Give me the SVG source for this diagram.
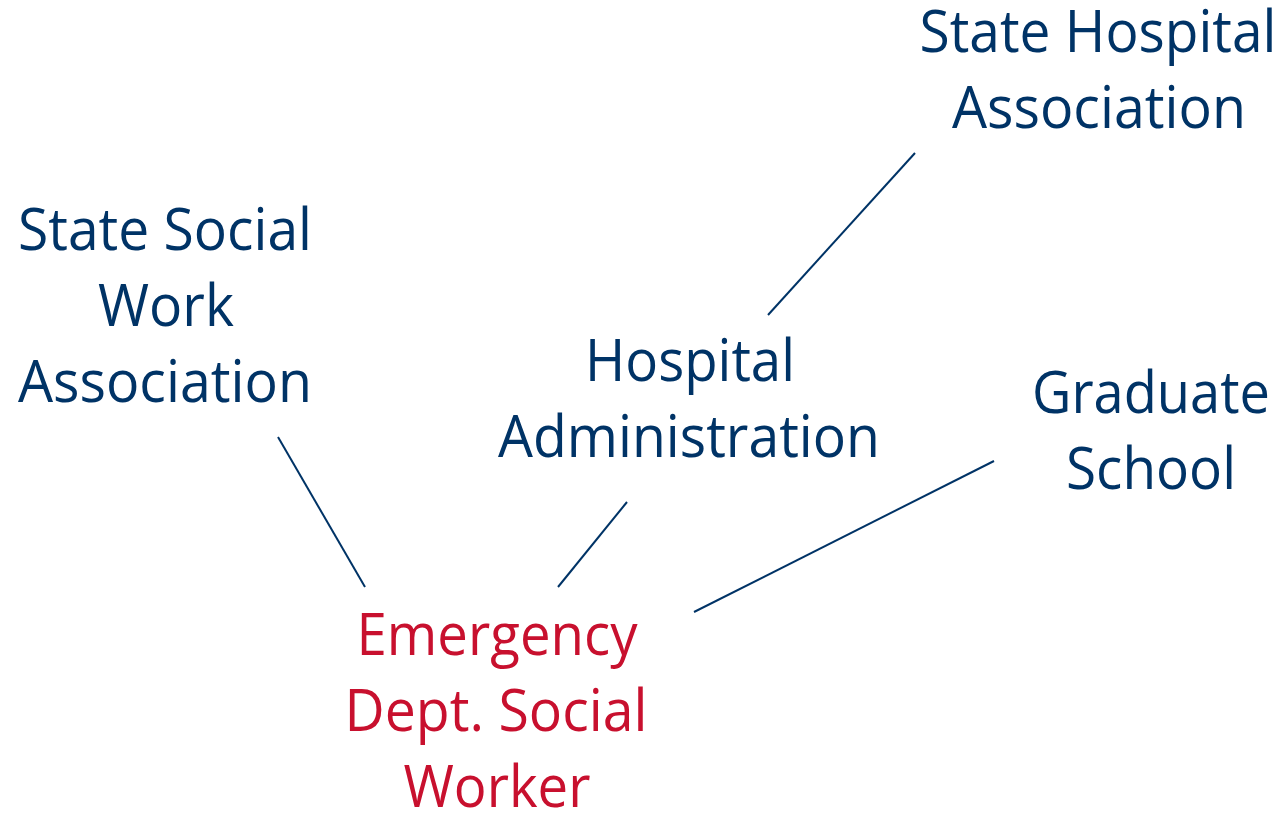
<svg xmlns="http://www.w3.org/2000/svg" width="1284" height="814" viewBox="0 0 1284 814">
<style>
text{font-family:"Open Sans","Noto Sans","Liberation Sans",sans-serif;font-size:58px;text-anchor:middle}
.n{fill:#003366}
.r{fill:#c8102e}
.c line{stroke:#003366;stroke-width:2}
</style>
<rect width="1284" height="814" fill="#ffffff"/>
<g class="c" id="connectors">
<line x1="278" y1="437" x2="365" y2="587"/>
<line x1="627" y1="502" x2="558" y2="587"/>
<line x1="994" y1="461" x2="694" y2="612"/>
<line x1="915" y1="153" x2="768" y2="315"/>
</g>
<g id="ssw">
<text class="n" x="165" y="250" textLength="294" lengthAdjust="spacingAndGlyphs">State Social</text>
<text class="n" x="166" y="326" textLength="136" lengthAdjust="spacingAndGlyphs">Work</text>
<text class="n" x="165" y="402" textLength="294" lengthAdjust="spacingAndGlyphs">Association</text>
</g>
<g id="sha">
<text class="n" x="1098" y="52" textLength="357" lengthAdjust="spacingAndGlyphs">State Hospital</text>
<text class="n" x="1099" y="128" textLength="294" lengthAdjust="spacingAndGlyphs">Association</text>
</g>
<g id="ha">
<text class="n" x="690" y="381" textLength="210" lengthAdjust="spacingAndGlyphs">Hospital</text>
<text class="n" x="689" y="457" textLength="382" lengthAdjust="spacingAndGlyphs">Administration</text>
</g>
<g id="gs">
<text class="n" x="1151" y="413" textLength="238" lengthAdjust="spacingAndGlyphs">Graduate</text>
<text class="n" x="1151" y="489" textLength="170" lengthAdjust="spacingAndGlyphs">School</text>
</g>
<g id="ed">
<text class="r" x="497" y="655" textLength="281" lengthAdjust="spacingAndGlyphs">Emergency</text>
<text class="r" x="496" y="731" textLength="303" lengthAdjust="spacingAndGlyphs">Dept. Social</text>
<text class="r" x="497" y="807" textLength="187" lengthAdjust="spacingAndGlyphs">Worker</text>
</g>
</svg>
